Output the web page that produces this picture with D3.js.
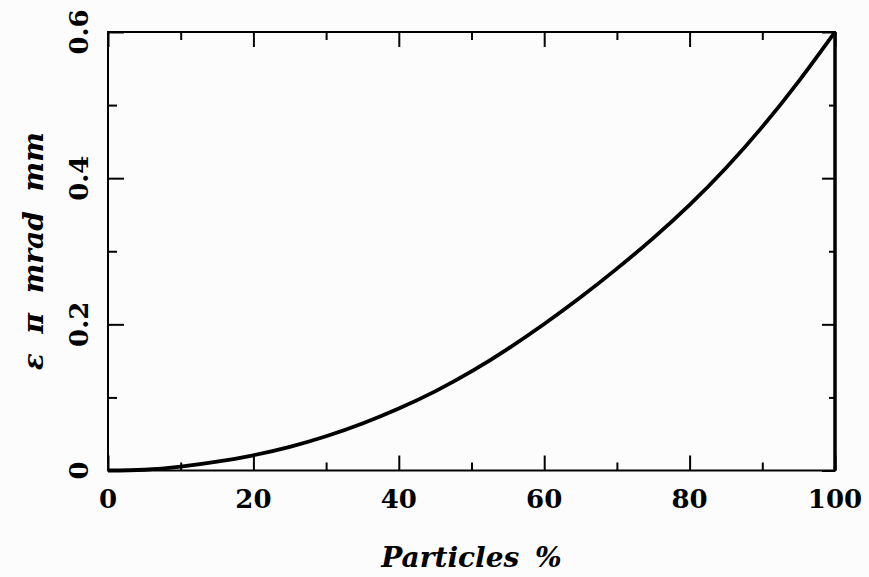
<!DOCTYPE html>
<html><head><meta charset="utf-8">
<script src="https://cdn.jsdelivr.net/npm/d3@7"></script>
<style>html,body{margin:0;padding:0;background:#fcfcfc;}svg{display:block;}</style>
</head><body>
<svg id="chart" width="869" height="577"></svg>
<script>
const particles = [0,5,10,15,20,25,30,35,40,45,50,55,60,65,70,75,80,85,90,95,100];
const emittance = [0,0.001,0.0052,0.012,0.0208,0.0323,0.0468,0.0643,0.0848,0.1083,0.1355,0.1665,0.2005,0.237,0.2762,0.318,0.3635,0.414,0.4702,0.5325,0.6];
const xMajor = [0,20,40,60,80,100];
const xMinor = [10,30,50,70,90];
const yMajor = [0,0.2,0.4,0.6];
const yMinor = [0.1,0.3,0.5];
const yLabels = ["0","0.2","0.4","0.6"];
const xTitle = "Particles %";
const yTitle = "\u03B5 \u03C0 mrad mm";

const svg = d3.select("#chart");
const L=108, R=835, T=32, B=470.5;
const x = d3.scaleLinear().domain([0,100]).range([L,R]);
const y = d3.scaleLinear().domain([0,0.6]).range([B,T]);
const font = "'DejaVu Serif', serif";

function ax(gen, tx, ty, vals, size){
  const g = svg.append("g").attr("transform",`translate(${tx},${ty})`)
    .call(gen.tickValues(vals).tickSize(size).tickSizeOuter(0).tickFormat(""));
  g.select(".domain").remove();
  g.selectAll(".tick line").attr("stroke","#000").attr("stroke-width",2);
  return g;
}
ax(d3.axisBottom(x),0,B,xMajor,-15);
ax(d3.axisBottom(x),0,B,xMinor,-8);
ax(d3.axisTop(x),0,T,xMajor,-15);
ax(d3.axisTop(x),0,T,xMinor,-8);
ax(d3.axisLeft(y),L,0,yMajor,-16);
ax(d3.axisLeft(y),L,0,yMinor,-9);
ax(d3.axisRight(y),R,0,yMajor,-13);
ax(d3.axisRight(y),R,0,yMinor,-6);

// frame
svg.append("rect").attr("x",L).attr("y",T).attr("width",R-L).attr("height",B-T)
  .attr("fill","none").attr("stroke","#000").attr("stroke-width",2);
svg.append("line").attr("x1",R).attr("x2",R).attr("y1",T).attr("y2",B)
  .attr("stroke","#000").attr("stroke-width",3.5);

// curve
const line = d3.line().x((d,i)=>x(particles[i])).y(d=>y(d)).curve(d3.curveNatural);
svg.append("path").attr("d",line(emittance)).attr("fill","none")
  .attr("stroke","#000").attr("stroke-width",3.8);

// x tick labels
svg.append("g").selectAll("text").data(xMajor).join("text")
  .attr("x",d=>x(d)).attr("y",508).attr("text-anchor","middle")
  .attr("font-family",font).attr("font-weight","bold").attr("font-size",26)
  .text(d=>d);
// y tick labels
svg.append("g").selectAll("text").data(yMajor).join("text")
  .attr("transform",d=>`translate(88,${y(d)}) rotate(-90)`)
  .attr("text-anchor","middle")
  .attr("font-family",font).attr("font-weight","bold").attr("font-size",26)
  .text((d,i)=>yLabels[i]);

// titles
svg.append("text").attr("x",(L+R)/2).attr("y",567).attr("text-anchor","middle")
  .attr("font-family",font).attr("font-weight","bold").attr("font-style","italic")
  .attr("font-size",28).attr("word-spacing",6).text(xTitle);
svg.append("text").attr("transform",`translate(43,${(T+B)/2}) rotate(-90)`)
  .attr("text-anchor","middle")
  .attr("font-family",font).attr("font-weight","bold").attr("font-style","italic")
  .attr("font-size",28).attr("word-spacing",10).text(yTitle);
</script>
</body></html>
